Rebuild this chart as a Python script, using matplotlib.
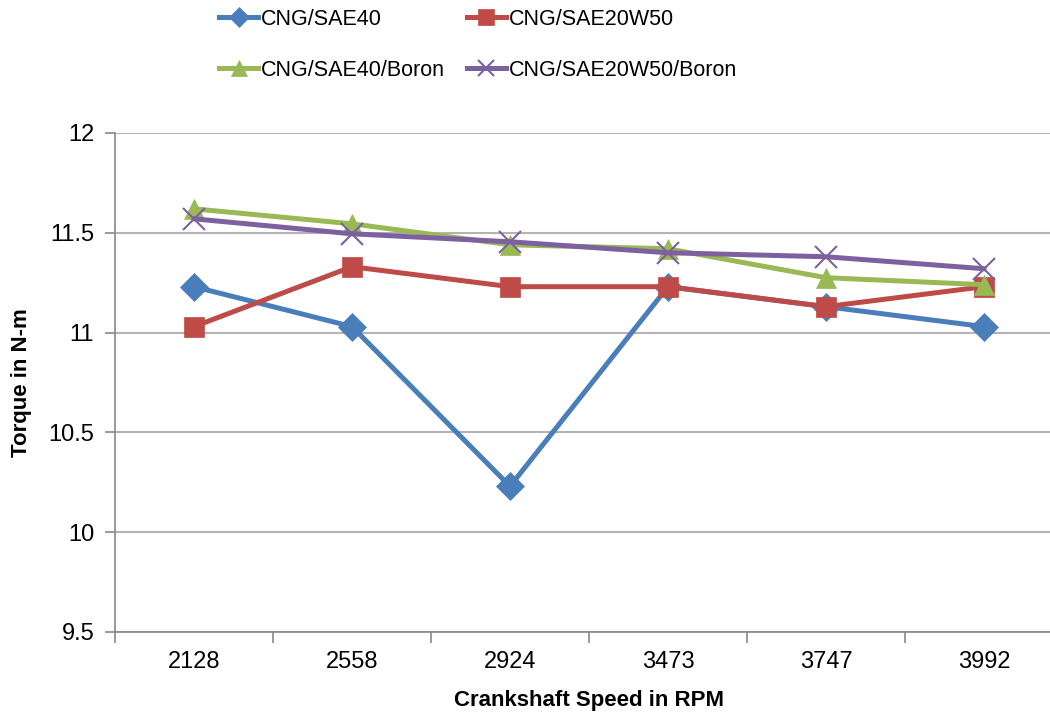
import matplotlib
matplotlib.use("Agg")
import matplotlib.pyplot as plt
import numpy as np

plt.rcParams['font.family'] = ['Liberation Sans', 'DejaVu Sans']

# data
speeds = ['2128', '2558', '2924', '3473', '3747', '3992']
sae40 = [11.23, 11.03, 10.23, 11.23, 11.13, 11.03]
sae20w50 = [11.03, 11.33, 11.23, 11.23, 11.13, 11.23]
sae40_boron = [11.62, 11.545, 11.44, 11.42, 11.275, 11.24]
sae20w50_boron = [11.57, 11.495, 11.455, 11.40, 11.38, 11.32]

series = [
    ('CNG/SAE40', sae40, '#4A7EBB', 'D', 14),
    ('CNG/SAE20W50', sae20w50, '#BE4B48', 's', 15),
    ('CNG/SAE40/Boron', sae40_boron, '#98B954', '^', 15),
    ('CNG/SAE20W50/Boron', sae20w50_boron, '#7D60A0', 'x', 16),
]

fig = plt.figure(figsize=(10.5, 7.21), dpi=100)
ax = fig.add_axes([115 / 1050, 89 / 721, 948 / 1050, 499 / 721])

x = np.arange(len(speeds))
lines = []
for name, vals, col, mk, ms in series:
    ln, = ax.plot(x, vals, color=col, lw=3.6, marker=mk, markersize=ms,
                  markeredgewidth=1.5 if mk == 'x' else 0.5, markeredgecolor=col,
                  label=name, solid_joinstyle='round')
    lines.append(ln)

ax.set_xlim(-0.5, len(speeds) - 0.5)
ax.set_ylim(9.5, 12)
ax.set_yticks(np.arange(9.5, 12.01, 0.5))
ax.set_yticklabels(['9.5', '10', '10.5', '11', '11.5', '12'])
ax.set_xticks(x)
ax.set_xticklabels(speeds)
ax.set_xticks(np.arange(-0.5, len(speeds), 1), minor=True)
ax.tick_params(axis='x', which='major', length=0, pad=14, labelsize=17)
ax.tick_params(axis='x', which='minor', length=8, width=1.2, color='#888888')
ax.tick_params(axis='y', length=7, width=1.2, color='#888888', pad=8, labelsize=17)

ax.grid(axis='y', color='#B3B3B3', lw=1.5)
ax.set_axisbelow(True)
for side in ['top', 'right']:
    ax.spines[side].set_visible(False)
for side in ['left', 'bottom']:
    ax.spines[side].set_color('#888888')
    ax.spines[side].set_linewidth(1.2)

ax.set_xlabel('Crankshaft Speed in RPM', fontsize=16, fontweight='bold', labelpad=12)
ax.set_ylabel('Torque in N-m', fontsize=16, fontweight='bold', labelpad=12)

# legend is filled row by row in the reference
order = [0, 2, 1, 3]
leg = fig.legend([lines[i] for i in order], [series[i][0] for i in order],
                 loc='upper left', bbox_to_anchor=(200 / 1050, 1.015), ncol=2,
                 frameon=False, fontsize=15.5, handlelength=1.8, handletextpad=0.15,
                 columnspacing=1.0, labelspacing=1.4, markerscale=0.75)

fig.savefig('out.png', dpi=100)
